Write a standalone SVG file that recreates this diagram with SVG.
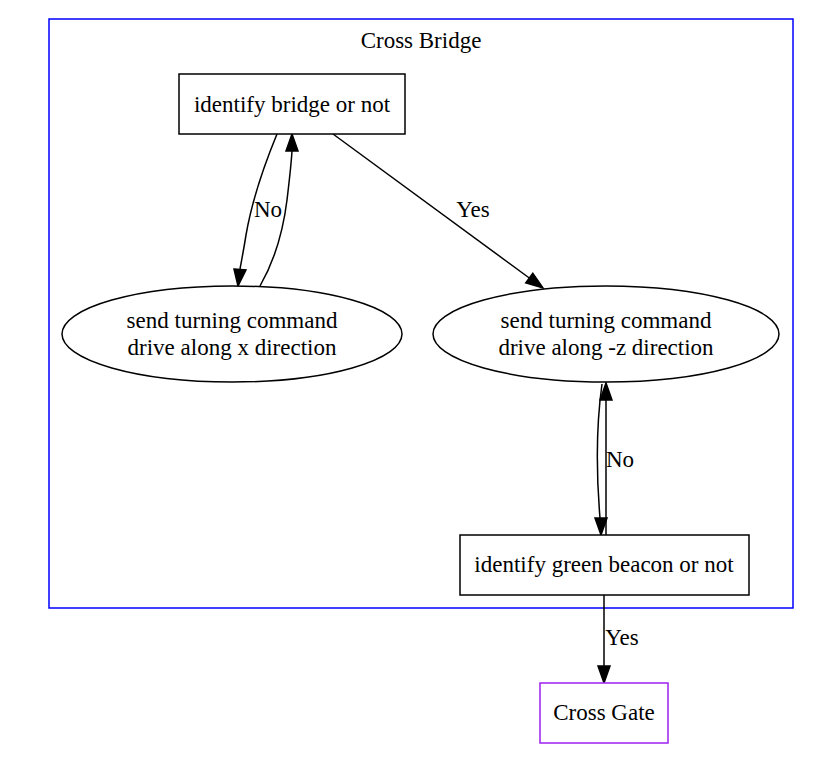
<svg xmlns="http://www.w3.org/2000/svg" width="838" height="767" viewBox="0 0 838 767">
<style>
text{font-family:"Liberation Serif","Times New Roman",serif;font-size:23px;fill:#000;text-anchor:middle}
.n{fill:#fff;stroke:#000;stroke-width:1.5}
.e{fill:none;stroke:#000;stroke-width:1.5}
.ah{fill:#000;stroke:#000;stroke-width:1.5}
</style>
<rect width="838" height="767" fill="#fff"/>
<g id="cluster_cross_bridge">
<rect x="49" y="19" width="744" height="589" fill="none" stroke="#0000ff" stroke-width="1.5"/>
<text x="421" y="48">Cross Bridge</text>
</g>
<g id="edges">
<path class="e" d="M277,134 C263,168 252,200 246,235 C244,248 242,258 240,269"/>
<polygon class="ah" points="234,269 246,270 238,286"/>
<text x="268" y="217">No</text>
<path class="e" d="M260,286 C275,260 283,232 287,200 C289,183 291,167 292,151"/>
<polygon class="ah" points="286,151 298,151 292,134"/>
<path class="e" d="M333,134 L529.3,278"/>
<polygon class="ah" points="525.7,282.9 532.8,273.2 543,288"/>
<text x="473" y="217">Yes</text>
<path class="e" d="M602,384 C597,420 596,470 600,518"/>
<polygon class="ah" points="595,518 607,518 601,535"/>
<path class="e" d="M606,535 L606,400"/>
<polygon class="ah" points="600,400 612,400 606,383"/>
<text x="620" y="467">No</text>
<path class="e" d="M604,595 L604,666"/>
<polygon class="ah" points="598,666 610,666 604,683"/>
<text x="622" y="645">Yes</text>
</g>
<g id="identify_bridge">
<rect class="n" x="179" y="74" width="226" height="60"/>
<text x="292" y="112">identify bridge or not</text>
</g>
<g id="turn_x">
<ellipse class="n" cx="232" cy="334" rx="170" ry="48"/>
<text x="232" y="328">send turning command</text>
<text x="232" y="355">drive along x direction</text>
</g>
<g id="turn_z">
<ellipse class="n" cx="606" cy="334" rx="173" ry="48"/>
<text x="606" y="328">send turning command</text>
<text x="606" y="355">drive along -z direction</text>
</g>
<g id="identify_beacon">
<rect class="n" x="460" y="535" width="289" height="60"/>
<text x="604" y="572">identify green beacon or not</text>
</g>
<g id="cross_gate">
<rect x="540" y="683" width="128" height="60" fill="#fff" stroke="#a020f0" stroke-width="1.5"/>
<text x="604" y="720">Cross Gate</text>
</g>
</svg>
